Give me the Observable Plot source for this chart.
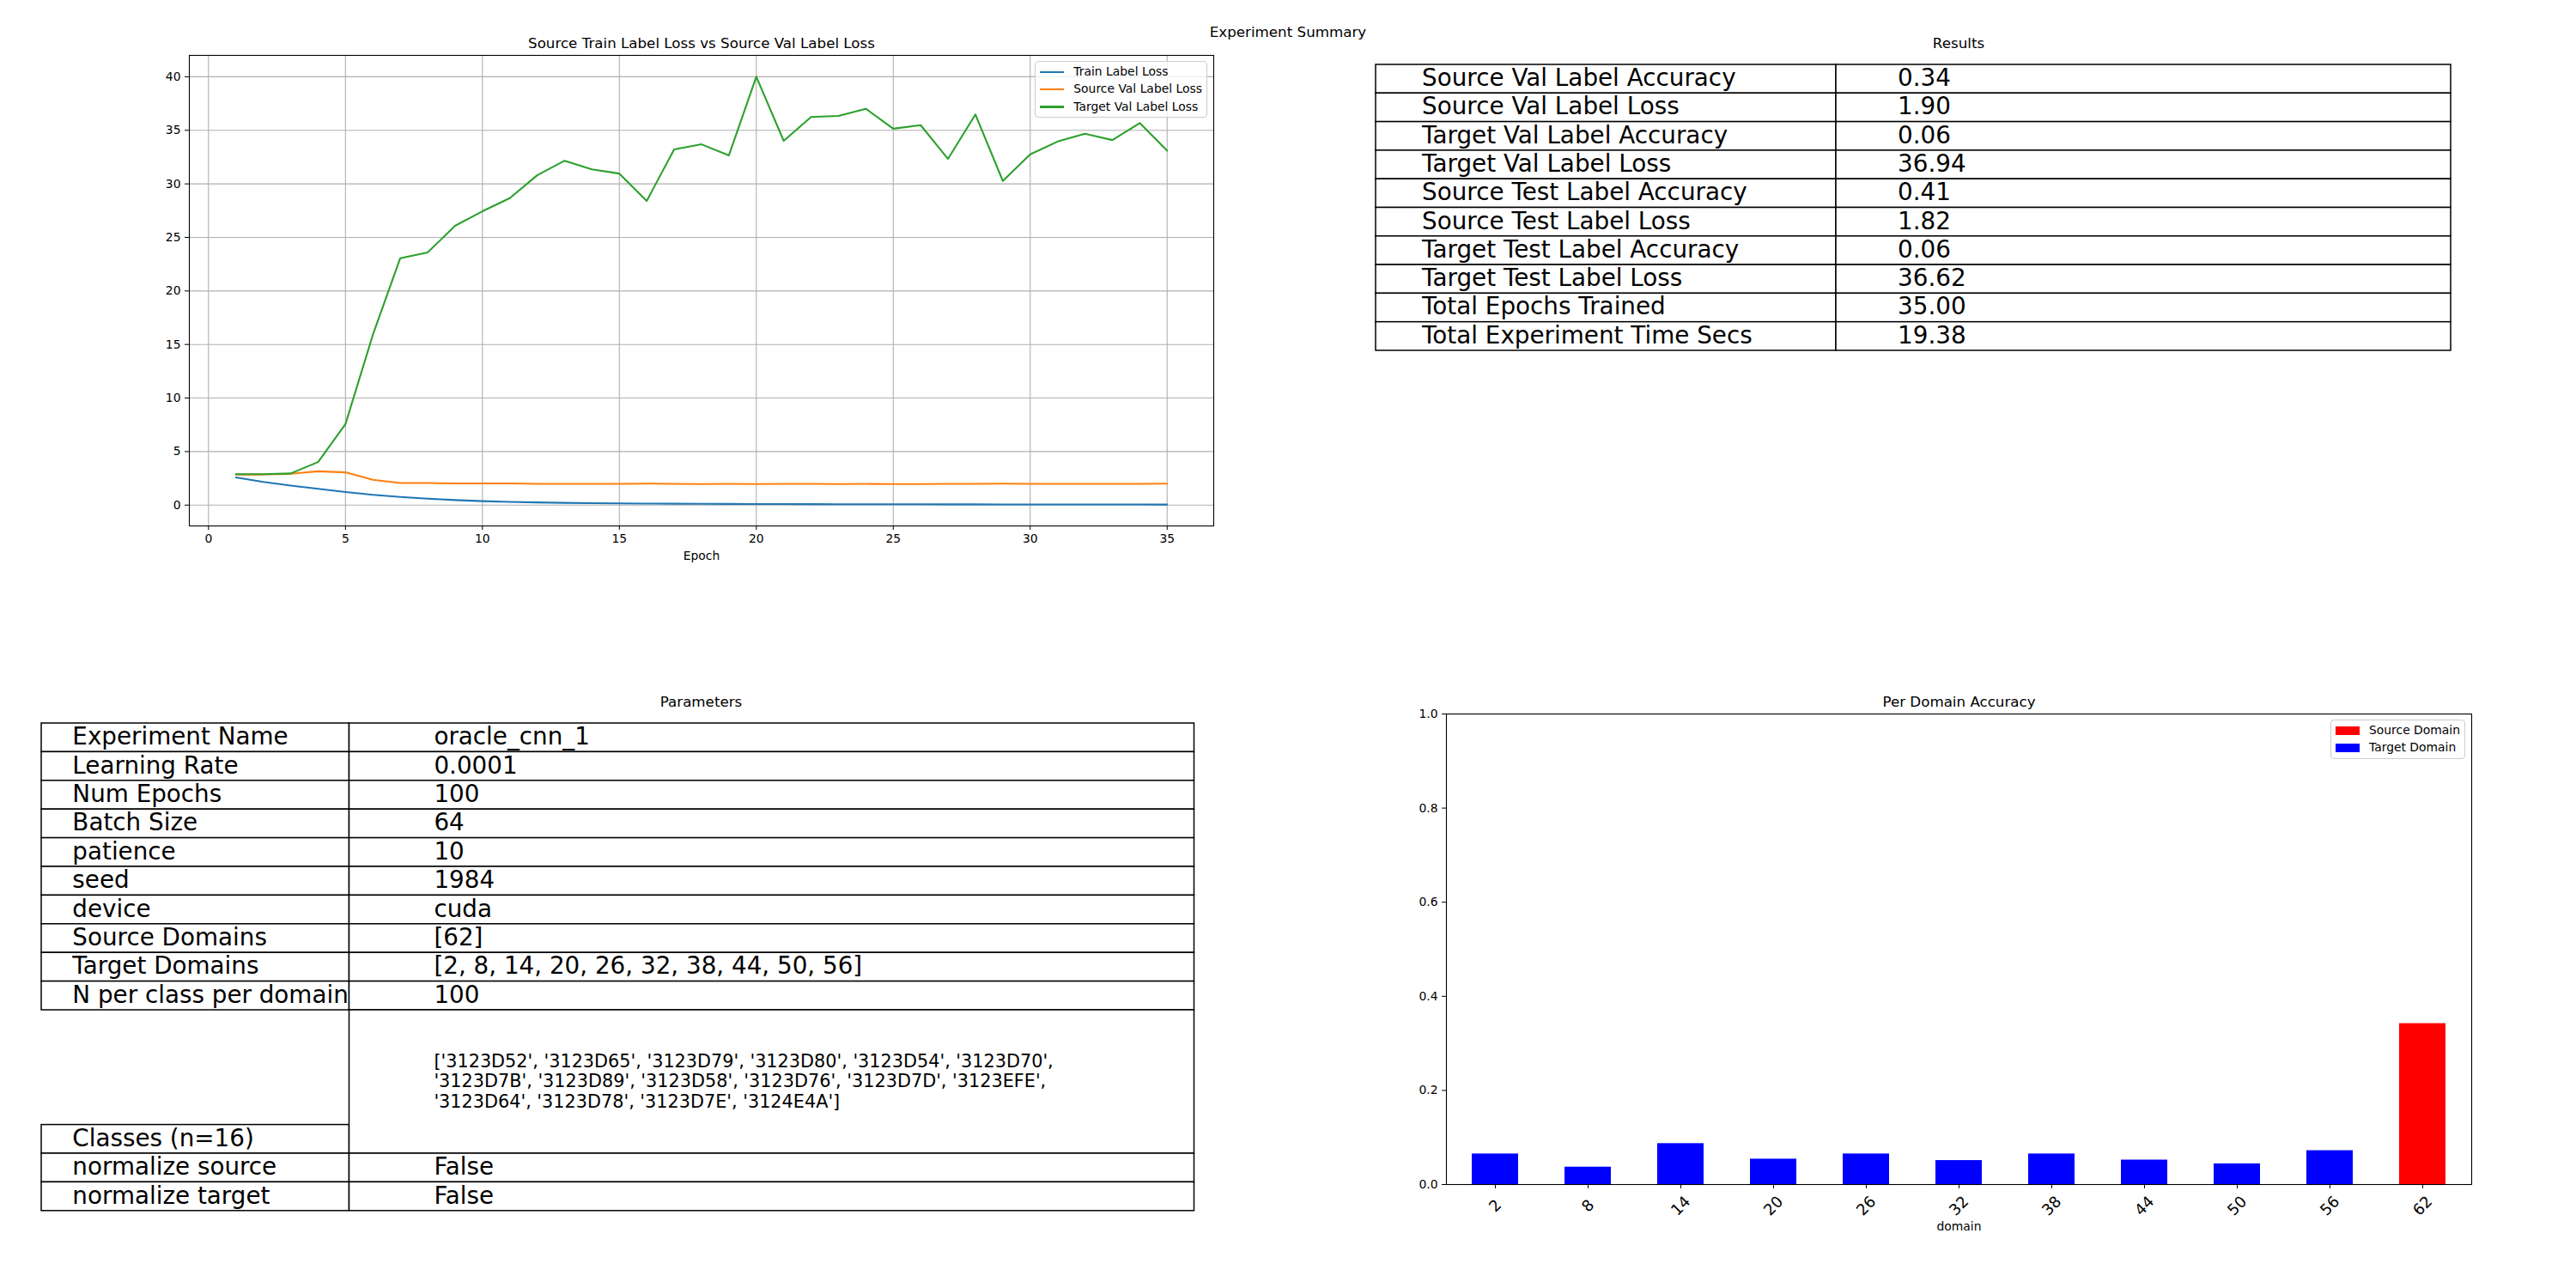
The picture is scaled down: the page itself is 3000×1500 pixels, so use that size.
<!DOCTYPE html>
<html><head><meta charset="utf-8">
<script src="https://cdn.jsdelivr.net/npm/d3@7"></script>
<script src="https://cdn.jsdelivr.net/npm/@observablehq/plot@0.6"></script>
<style>
body{margin:0;background:#fff;}
#root{position:relative;width:3000px;height:1500px;background:#fff;font-family:"DejaVu Sans",sans-serif;color:#000;overflow:hidden}
</style></head><body><div id="root"></div>
<script>
// ---------------- DATA ----------------
const suptitle = "Experiment Summary";
const lossTitle = "Source Train Label Loss vs Source Val Label Loss";
const epochs = [1,2,3,4,5,6,7,8,9,10,11,12,13,14,15,16,17,18,19,20,21,22,23,24,25,26,27,28,29,30,31,32,33,34,35];
const seriesNames = ["Train Label Loss", "Source Val Label Loss", "Target Val Label Loss"];
const seriesColors = ["#1f77b4", "#ff7f0e", "#2ca02c"];
const trainLabelLoss = [2.59,2.16,1.83,1.53,1.23,0.96,0.76,0.60,0.47,0.37,0.30,0.25,0.21,0.18,0.16,0.14,0.13,0.12,0.11,0.10,0.095,0.09,0.085,0.08,0.078,0.075,0.07,0.068,0.065,0.063,0.06,0.058,0.056,0.055,0.053];
const sourceValLabelLoss = [2.86,2.86,2.92,3.16,3.06,2.36,2.06,2.06,2.03,2.02,2.02,1.99,1.99,1.98,1.99,2.01,1.99,1.97,1.98,1.97,1.98,1.98,1.97,1.98,1.97,1.96,1.98,1.98,2.00,1.99,1.98,1.98,1.99,1.99,2.00];
const targetValLabelLoss = [2.89,2.89,2.96,4.02,7.57,15.9,23.06,23.59,26.08,27.44,28.67,30.80,32.16,31.36,30.96,28.41,33.22,33.69,32.66,40.0,34.02,36.25,36.35,37.01,35.15,35.48,32.33,36.48,30.27,32.76,33.95,34.68,34.09,35.68,33.09];
const lossXTicks = [0,5,10,15,20,25,30,35];
const lossYTicks = [0,5,10,15,20,25,30,35,40];

const resultsTitle = "Results";
const resultLabels = ["Source Val Label Accuracy","Source Val Label Loss","Target Val Label Accuracy","Target Val Label Loss","Source Test Label Accuracy","Source Test Label Loss","Target Test Label Accuracy","Target Test Label Loss","Total Epochs Trained","Total Experiment Time Secs"];
const resultValues = [0.34,1.90,0.06,36.94,0.41,1.82,0.06,36.62,35.00,19.38];

const paramsTitle = "Parameters";
const sourceDomains = [62];
const targetDomains = [2,8,14,20,26,32,38,44,50,56];
const classNames = ['3123D52','3123D65','3123D79','3123D80','3123D54','3123D70','3123D7B','3123D89','3123D58','3123D76','3123D7D','3123EFE','3123D64','3123D78','3123D7E','3124E4A'];
const paramLabels = ["Experiment Name","Learning Rate","Num Epochs","Batch Size","patience","seed","device","Source Domains","Target Domains","N per class per domain","Classes (n=16)","normalize source","normalize target"];
const paramValues = ["oracle_cnn_1","0.0001","100","64","10","1984","cuda",
  "[" + sourceDomains.join(", ") + "]", "[" + targetDomains.join(", ") + "]", "100",
  null, "False", "False"];

const barTitle = "Per Domain Accuracy";
const domains = [2,8,14,20,26,32,38,44,50,56,62];
const domainAccuracy = [0.065,0.037,0.087,0.054,0.065,0.051,0.065,0.052,0.044,0.072,0.342];
const kindNames = ["Source Domain","Target Domain"];
const kindColors = ["#ff0000","#0000ff"];
const barYTicks = [0,0.2,0.4,0.6,0.8,1.0];

// ---------------- LAYOUT ----------------
const root = document.getElementById("root");
const FONT = "DejaVu Sans";
const TICK = 13.9, TITLE = 16.7, TABLE = 27.8, SMALL = 20.8, XROT = 18;

function place(el, left, top) {
  el.style.position = "absolute";
  el.style.left = left + "px";
  el.style.top = top + "px";
  el.style.maxWidth = "none";
  root.appendChild(el);
}
function label(text, cx, baseline, size) {
  const d = document.createElement("div");
  d.textContent = text;
  d.style.cssText = `position:absolute;left:${cx}px;top:${baseline - 0.846*size}px;transform:translateX(-50%);font-size:${size}px;line-height:1;white-space:nowrap;font-family:'${FONT}'`;
  root.appendChild(d);
}
function legend(items, rightEdge, top) {
  const box = document.createElement("div");
  box.style.cssText = `position:absolute;right:${3000-rightEdge}px;top:${top}px;border:1px solid #cccccc;border-radius:4px;background:rgba(255,255,255,0.8);padding:5px 5px 5px 5px;display:flex;flex-direction:column;gap:6.9px;font-size:${TICK}px;line-height:13.5px;font-family:'${FONT}'`;
  items.forEach(it => {
    const row = document.createElement("div");
    row.style.cssText = "display:flex;align-items:center;height:13.5px;";
    const h = document.createElement("div");
    h.style.cssText = `width:27.8px;height:${it.patch ? 9.7 : 2.08}px;background:${it.color};margin-right:11.1px;flex:none`;
    const t = document.createElement("span");
    t.textContent = it.name;
    t.style.whiteSpace = "nowrap";
    row.appendChild(h); row.appendChild(t);
    box.appendChild(row);
  });
  root.appendChild(box);
}

label(suptitle, 1500, 42.7, TITLE);
label(resultsTitle, 2281, 55.7, TITLE);
label(paramsTitle, 816.5, 822.7, TITLE);

// ---------------- LINE CHART ----------------
{
  const F = {l: 220, t: 64, r: 1413, b: 612};
  const m = {left: 60, right: 10, top: 40, bottom: 60};
  const seriesValues = [trainLabelLoss, sourceValLabelLoss, targetValLabelLoss];
  const data = [];
  seriesNames.forEach((s, k) => epochs.forEach((e, i) => data.push({epoch: e, value: seriesValues[k][i], series: s})));
  const [xmin, xmax] = d3.extent(epochs);
  const [ymin, ymax] = d3.extent(data, d => d.value);
  const xm = (xmax - xmin) * 0.05, ym = (ymax - ymin) * 0.05;
  const chart = Plot.plot({
    width: (F.r - F.l) + m.left + m.right,
    height: (F.b - F.t) + m.top + m.bottom,
    marginLeft: m.left, marginRight: m.right, marginTop: m.top, marginBottom: m.bottom,
    style: {fontFamily: FONT, fontSize: TICK + "px", color: "black", background: "transparent", overflow: "visible"},
    x: {domain: [xmin - xm, xmax + xm]},
    y: {domain: [ymin - ym, ymax + ym]},
    color: {domain: seriesNames, range: seriesColors},
    marks: [
      Plot.gridX({ticks: lossXTicks, stroke: "#b0b0b0", strokeOpacity: 1, strokeWidth: 1.1}),
      Plot.gridY({ticks: lossYTicks, stroke: "#b0b0b0", strokeOpacity: 1, strokeWidth: 1.1}),
      Plot.lineY(data, {x: "epoch", y: "value", stroke: "series", strokeWidth: 2.08}),
      Plot.frame({stroke: "black", strokeWidth: 1.1}),
      Plot.axisX({ticks: lossXTicks, tickSize: 5, tickPadding: 5, label: null, fontSize: TICK}),
      Plot.axisY({ticks: lossYTicks, tickSize: 5, tickPadding: 5, label: null, fontSize: TICK}),
      Plot.text([lossTitle], {frameAnchor: "top", lineAnchor: "middle", dy: -13.6, text: d => d, fontSize: TITLE}),
      Plot.text(["Epoch"], {frameAnchor: "bottom", lineAnchor: "middle", dy: 35, text: d => d, fontSize: TICK})
    ]
  });
  place(chart, F.l - m.left, F.t - m.top);
  legend(seriesNames.map((n, i) => ({name: n, color: seriesColors[i]})), 1406, 71);
}

// ---------------- BAR CHART ----------------
{
  const F = {l: 1684, t: 831, r: 2878, b: 1379};
  const m = {left: 80, right: 30, top: 40, bottom: 80};
  const data = domains.map((d, i) => ({domain: d, acc: domainAccuracy[i], kind: sourceDomains.includes(d) ? kindNames[0] : kindNames[1]}));
  const chart = Plot.plot({
    width: (F.r - F.l) + m.left + m.right,
    height: (F.b - F.t) + m.top + m.bottom,
    marginLeft: m.left, marginRight: m.right, marginTop: m.top, marginBottom: m.bottom,
    style: {fontFamily: FONT, fontSize: TICK + "px", color: "black", background: "transparent", overflow: "visible"},
    x: {type: "band", domain: domains, paddingInner: 0.5, paddingOuter: 0.25},
    y: {domain: [0, 1]},
    color: {domain: kindNames, range: kindColors},
    marks: [
      Plot.barY(data, {x: "domain", y: "acc", fill: "kind"}),
      Plot.frame({stroke: "black", strokeWidth: 1.1}),
      Plot.axisX({tickSize: 5, tickFormat: () => "", label: null}),
      Plot.text(domains, {x: d => d, text: d => String(d), frameAnchor: "bottom", lineAnchor: "middle", textAnchor: "middle", rotate: -45, dy: 25, fontSize: XROT}),
      Plot.axisY({ticks: barYTicks, tickFormat: d3.format(".1f"), tickSize: 5, tickPadding: 5, label: null, fontSize: TICK}),
      Plot.text([barTitle], {frameAnchor: "top", lineAnchor: "middle", dy: -13.6, text: d => d, fontSize: TITLE}),
      Plot.text(["domain"], {frameAnchor: "bottom", lineAnchor: "middle", dy: 49, text: d => d, fontSize: TICK})
    ]
  });
  place(chart, F.l - m.left, F.t - m.top);
  legend(kindNames.map((n, i) => ({name: n, color: kindColors[i], patch: true})), 2871, 838);
}

// ---------------- TABLES ----------------
function tablePlot(box, nUnits, split, cells, texts) {
  const pad = 3;
  const chart = Plot.plot({
    width: (box.r - box.l) + 2*pad,
    height: nUnits * box.rowH + 2*pad,
    marginLeft: pad, marginRight: pad, marginTop: pad, marginBottom: pad,
    style: {fontFamily: FONT, color: "black", background: "transparent", overflow: "visible"},
    x: {domain: [0, 1], axis: null},
    y: {domain: [0, nUnits], reverse: true, axis: null},
    marks: [
      Plot.rect(cells, {x1: "x1", x2: "x2", y1: "y1", y2: "y2", fill: "white", stroke: "black", strokeWidth: 1.5}),
      ...texts
    ]
  });
  place(chart, box.l - pad, box.t - pad);
}

// Results
{
  const box = {l: 1602, r: 2854, t: 75, rowH: 33.3};
  const split = (2138 - box.l) / (box.r - box.l);
  const cells = [];
  resultLabels.forEach((_, i) => {
    cells.push({x1: 0, x2: split, y1: i, y2: i + 1});
    cells.push({x1: split, x2: 1, y1: i, y2: i + 1});
  });
  const fmt = d3.format(".2f");
  tablePlot(box, resultLabels.length, split, cells, [
    Plot.text(resultLabels, {x: () => 0.1 * split, y: (d, i) => i + 0.5, text: d => d, textAnchor: "start", lineAnchor: "middle", fontSize: TABLE, dy: -1}),
    Plot.text(resultValues, {x: () => split + 0.1 * (1 - split), y: (d, i) => i + 0.5, text: d => fmt(d), textAnchor: "start", lineAnchor: "middle", fontSize: TABLE, dy: -1})
  ]);
}

// Parameters
{
  const box = {l: 47.5, r: 1390, t: 842, rowH: 33.4};
  const split = (406 - box.l) / (box.r - box.l);
  const rowSpan = paramLabels.map(l => l.startsWith("Classes") ? 5 : 1);
  const q = classNames.map(c => `'${c}'`);
  const lines = [];
  for (let i = 0; i < q.length; i += 6) lines.push(q.slice(i, i + 6).join(", "));
  const classesText = "[" + lines.join(",\n") + "]";
  const cells = [], labelRows = [], valueRows = [];
  let y = 0;
  paramLabels.forEach((lab, i) => {
    const s = rowSpan[i];
    cells.push({x1: 0, x2: split, y1: y + s - 1, y2: y + s});
    cells.push({x1: split, x2: 1, y1: y, y2: y + s});
    labelRows.push({t: lab, y: y + s - 0.5});
    const v = paramValues[i] === null ? classesText : paramValues[i];
    valueRows.push({t: v, y: y + s / 2, small: s > 1});
    y += s;
  });
  tablePlot(box, y, split, cells, [
    Plot.text(labelRows, {x: () => 0.1 * split, y: "y", text: "t", textAnchor: "start", lineAnchor: "middle", fontSize: TABLE, dy: -1}),
    Plot.text(valueRows.filter(d => !d.small), {x: () => split + 0.1 * (1 - split), y: "y", text: "t", textAnchor: "start", lineAnchor: "middle", fontSize: TABLE, dy: -1}),
    Plot.text(valueRows.filter(d => d.small), {x: () => split + 0.1 * (1 - split), y: "y", text: "t", textAnchor: "start", lineAnchor: "middle", fontSize: SMALL, lineHeight: 1.125, dy: -1})
  ]);
}
</script></body></html>
